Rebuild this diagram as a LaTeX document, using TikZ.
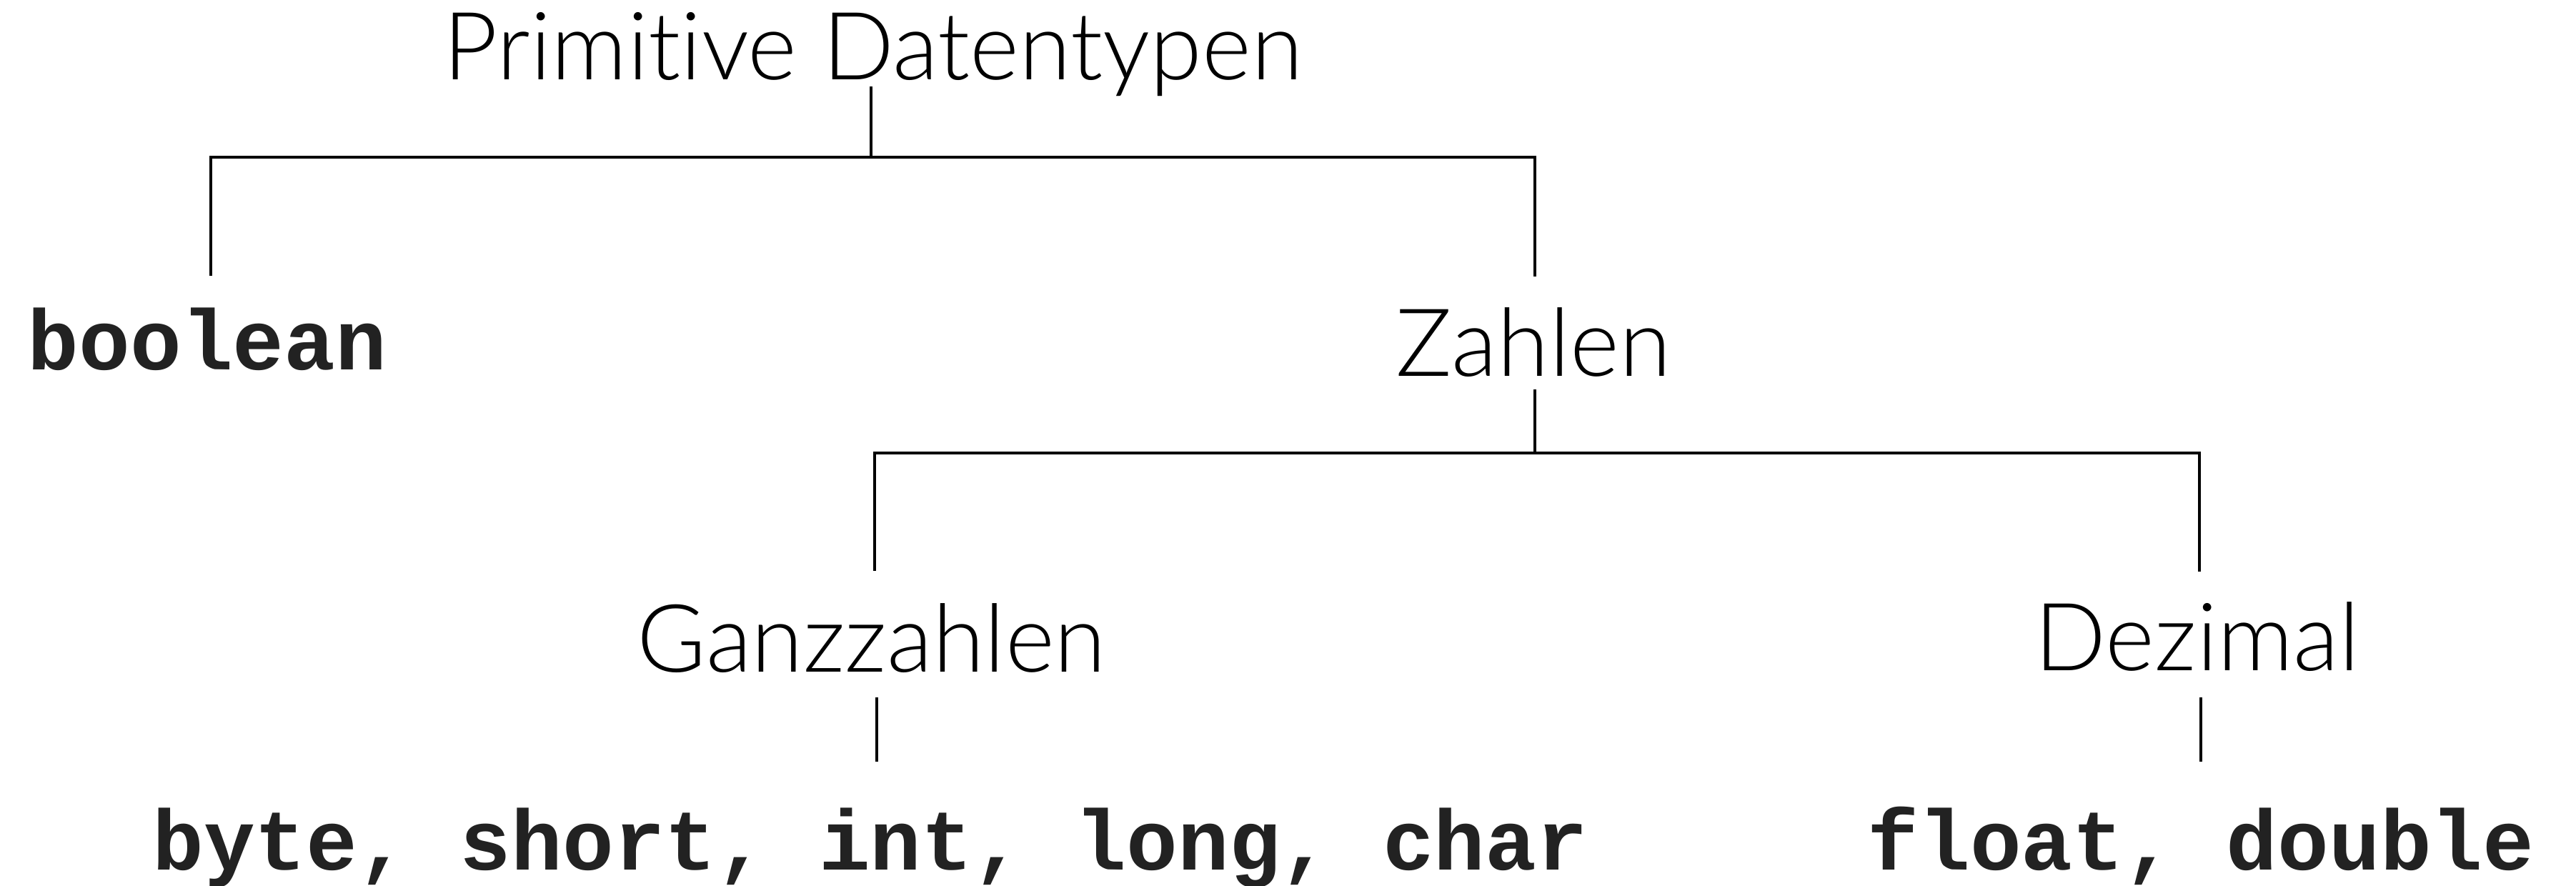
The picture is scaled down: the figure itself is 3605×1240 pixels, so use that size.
\documentclass[tikz,border=0pt]{standalone}
\usepackage{fontspec}
\usetikzlibrary{calc}
\newfontfamily\labelfont{Lato Light}[Ligatures={NoCommon}]
\newfontfamily\codefont{Liberation Mono}
\definecolor{codegray}{RGB}{34,34,34}
\tikzset{
  lbl/.style={inner sep=0pt, anchor=base, font=\labelfont\fontsize{37.5}{42}\selectfont, text=black},
  code/.style={inner sep=0pt, anchor=base, font=\codefont\bfseries\fontsize{34}{38}\selectfont, text=codegray},
  link/.style={draw=black, line width=1.3pt}
}
\begin{document}
\begin{tikzpicture}[x=0.01cm, y=-0.01cm]
  \useasboundingbox (0,0) rectangle (3605,1240);

  % labels of the tree
  \node[lbl]  (root)   at (1222,112)  {Primitive Datentypen};
  \node[code] (bool)   at (290,518)   {boolean};
  \node[lbl]  (zahl)   at (2146,527)  {Zahlen};
  \node[lbl]  (ganz)   at (1220,940)  {Ganzzahlen};
  \node[lbl]  (dez)    at (3075,939)  {Dezimal};
  \node[code] (ints)   at (1218,1217) {byte, short, int, long, char};
  \node[code] (floats) at (3080,1217) {float, double};

  % junctions of the branching bars
  \coordinate (j1) at ($(root.base)+(-3,108)$);
  \coordinate (j2) at ($(zahl.base)+(2,107)$);

  % Primitive Datentypen -> boolean / Zahlen
  \draw[link] ($(root.base)+(-3,9)$) -- (j1) -| ($(bool.base)+(5,-132)$);
  \draw[link] (j1) -| ($(zahl.base)+(2,-140)$);

  % Zahlen -> Ganzzahlen / Dezimal
  \draw[link] ($(zahl.base)+(2,18)$) -- (j2) -| ($(ganz.base)+(4,-141)$);
  \draw[link] (j2) -| ($(dez.base)+(3,-139)$);

  % leaves
  \draw[link] ($(ganz.base)+(7,36)$) -- ($(ints.base)+(9,-151)$);
  \draw[link] ($(dez.base)+(5,37)$) -- ($(floats.base)+(0,-151)$);
\end{tikzpicture}
\end{document}
